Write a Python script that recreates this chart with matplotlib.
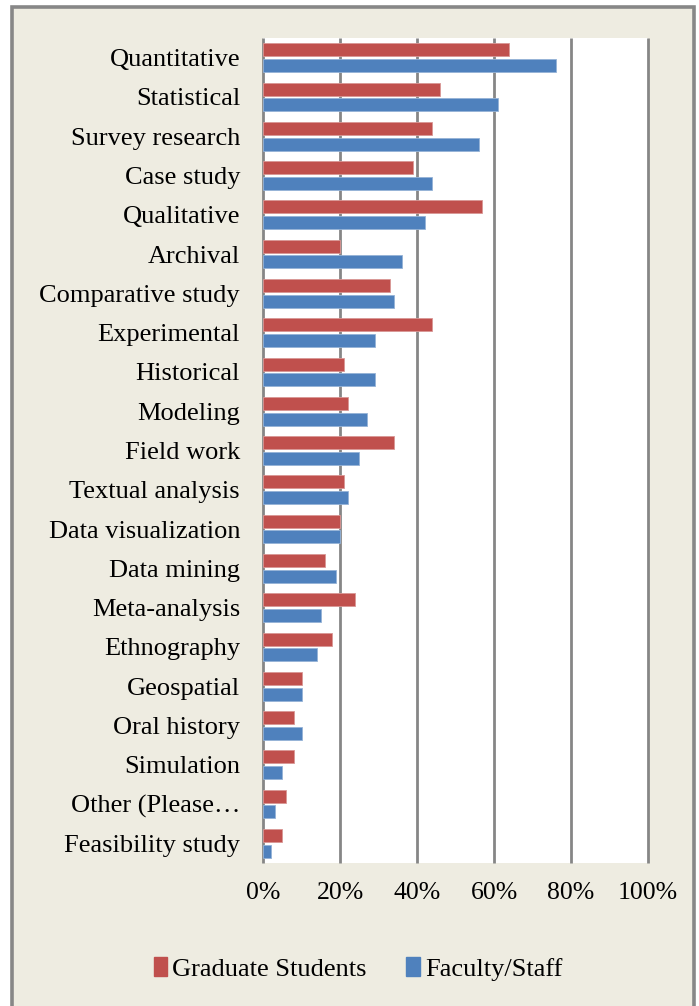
import matplotlib

matplotlib.use("Agg")
import matplotlib.pyplot as plt
from matplotlib.patches import Rectangle, Patch

categories = [
    "Quantitative", "Statistical", "Survey research", "Case study", "Qualitative",
    "Archival", "Comparative study", "Experimental", "Historical", "Modeling",
    "Field work", "Textual analysis", "Data visualization", "Data mining",
    "Meta-analysis", "Ethnography", "Geospatial", "Oral history", "Simulation",
    "Other (Please\u2026", "Feasibility study",
]
graduate = [64, 46, 44, 39, 57, 20, 33, 44, 21, 22, 34, 21, 20, 16, 24, 18, 10, 8, 8, 6, 5]
faculty = [76, 61, 56, 44, 42, 36, 34, 29, 29, 27, 25, 22, 20, 19, 15, 14, 10, 10, 5, 3, 2]
xticks = [0, 20, 40, 60, 80, 100]

W, H = 699, 1006
plt.rcParams["font.family"] = ["Liberation Serif", "DejaVu Serif"]

fig = plt.figure(figsize=(W / 100, H / 100), dpi=100)
fig.patch.set_facecolor("white")

# beige chart frame with grey border
frame = Rectangle((12 / W, -0.05), (693.5 - 12) / W, 1.05 - 7 / H,
                  transform=fig.transFigure, facecolor="#EEECE1",
                  edgecolor="#878787", linewidth=2.6, zorder=-10)
fig.patches.append(frame)

ax = fig.add_axes([263 / W, 1 - 863 / H, (648 - 263) / W, (863 - 38) / H])
ax.set_facecolor("white")

y = list(range(len(categories)))
h = 0.33
ax.barh([v - 0.2 for v in y], graduate, height=h, color="#C0504D",
        edgecolor="#D99795", linewidth=0.6, zorder=3, label="Graduate Students")
ax.barh([v + 0.2 for v in y], faculty, height=h, color="#4F81BD",
        edgecolor="#95B3D7", linewidth=0.6, zorder=3, label="Faculty/Staff")

ax.set_xlim(0, 100)
ax.set_ylim(len(categories) - 0.5, -0.5)
ax.set_xticks(xticks)
ax.set_xticklabels([f"{t}%" for t in xticks])
ax.set_yticks(y)
ax.set_yticklabels(categories)
ax.tick_params(axis="both", length=0, colors="black")
ax.tick_params(axis="x", pad=14, labelsize=18.5)
ax.tick_params(axis="y", pad=16.5, labelsize=19)
ax.grid(axis="x", color="#868686", linewidth=2, zorder=1)
for gl in ax.xaxis.get_gridlines():
    gl.set_clip_on(False)  # keep the 0% and 100% lines full width
    gl.set_solid_capstyle("butt")
for s in ["top", "right", "bottom", "left"]:
    ax.spines[s].set_visible(False)

handles = [Patch(color="#C0504D"), Patch(color="#4F81BD")]
fig.legend(handles, ["Graduate Students", "Faculty/Staff"], loc="center",
           bbox_to_anchor=(358 / W, 1 - 969 / H), ncol=2, frameon=False,
           fontsize=19, handlelength=0.5, handleheight=0.75, handletextpad=0.2,
           columnspacing=1.5)

fig.savefig("out.png", dpi=100)
